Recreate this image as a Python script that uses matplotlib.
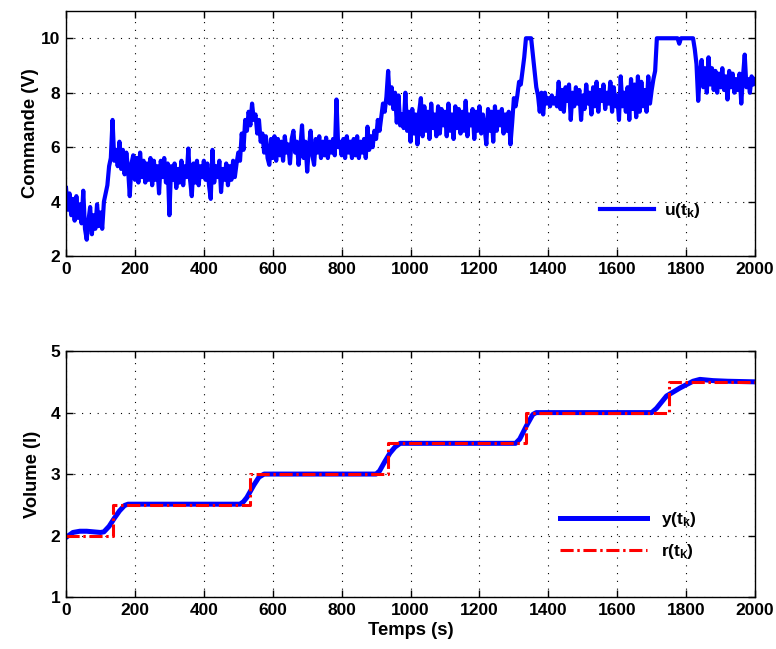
import matplotlib
matplotlib.use("Agg")
import matplotlib.pyplot as plt

# ---------------- data ----------------
# command u(t_k), sampled every 5 s (values read from the picture)
u_t = list(range(0, 2001, 5))
u_vals = [
    # 0-95
    4.5, 3.7, 4.3, 3.5, 4.1, 3.3, 4.2, 3.4, 3.9, 3.2, 4.4, 3.0, 2.6, 3.3, 3.8, 2.8, 3.5, 3.0, 3.9, 3.1,
    # 100-195
    3.6, 3.0, 4.0, 4.3, 4.6, 5.3, 5.6, 7.0, 5.5, 5.9, 5.3, 6.2, 5.2, 5.9, 5.0, 5.8, 5.2, 4.2, 5.4, 5.7,
    # 200-295
    4.8, 5.6, 4.7, 5.8, 4.9, 5.5, 4.7, 5.4, 4.8, 5.6, 4.6, 5.5, 4.8, 5.3, 4.3, 5.5, 4.9, 5.6, 4.7, 5.4,
    # 300-395
    3.5, 5.3, 4.8, 5.4, 4.5, 5.2, 4.7, 5.5, 4.6, 5.3, 4.9, 5.95, 4.8, 4.2, 5.4, 4.7, 5.5, 4.6, 5.3, 4.9,
    # 400-495
    5.5, 4.8, 5.4, 4.6, 4.1, 5.9, 4.7, 5.3, 4.9, 5.5, 4.35, 5.2, 4.8, 5.4, 4.6, 5.3, 4.8, 5.5, 4.9, 5.4,
    # 500-595
    5.8, 5.5, 6.5, 5.9, 7.0, 6.6, 7.3, 6.8, 7.6, 7.0, 7.2, 6.5, 7.0, 6.2, 6.5, 5.8, 6.4, 5.6, 5.35, 6.3,
    # 600-695
    5.6, 6.4, 5.5, 6.3, 5.7, 6.2, 5.5, 6.4, 5.8, 6.1, 5.4, 6.3, 6.6, 5.8, 6.2, 5.35, 6.0, 6.8, 5.6, 6.2,
    # 700-795
    5.1, 6.0, 6.6, 5.7, 5.35, 6.3, 5.8, 6.4, 5.6, 6.2, 5.7, 6.35, 5.6, 6.2, 5.8, 6.3, 5.7, 7.75, 6.0, 6.2,
    # 800-895
    5.7, 6.3, 5.6, 6.4, 5.8, 6.2, 5.6, 6.3, 5.7, 6.4, 5.6, 6.2, 5.8, 6.3, 5.6, 6.75, 5.9, 6.4, 6.0, 6.6,
    # 900-995
    6.3, 7.0, 6.6, 7.1, 7.6, 7.3, 7.85, 8.8, 7.6, 8.2, 7.4, 8.0, 6.9, 7.9, 6.8, 7.2, 6.7, 8.0, 6.6, 7.3,
    # 1000-1095
    6.2, 7.4, 6.5, 7.2, 6.1, 7.3, 7.8, 6.4, 7.5, 6.6, 7.3, 6.3, 7.6, 6.7, 7.2, 6.4, 7.5, 6.5, 7.4, 6.8,
    # 1100-1195
    7.3, 6.4, 7.6, 6.6, 7.2, 6.3, 7.5, 6.7, 7.4, 6.5, 7.3, 6.6, 7.7, 6.4, 7.2, 6.8, 7.4, 6.3, 7.3, 6.6,
    # 1200-1295
    7.5, 6.5, 7.2, 6.7, 6.1, 7.4, 6.6, 7.3, 6.2, 7.5, 6.6, 7.3, 6.8, 7.4, 6.5, 7.2, 6.6, 7.3, 6.1, 6.9,
    # 1300-1395
    7.8, 7.5, 7.9, 8.4, 8.3, 8.8, 9.3, 10.0, 10.0, 10.0, 10.0, 9.4, 8.8, 8.2, 7.9, 7.3, 8.0, 7.2, 8.0, 7.6,
    # 1400-1495
    7.8, 7.5, 7.9, 7.6, 7.8, 7.5, 8.4, 7.4, 8.1, 7.3, 8.2, 7.7, 8.3, 7.0, 8.0, 7.5, 8.2, 7.6, 8.1, 7.0,
    # 1500-1595
    7.9, 7.4, 8.3, 7.6, 8.0, 7.2, 8.2, 7.5, 8.4, 7.3, 8.1, 7.7, 8.3, 7.4, 8.0, 7.6, 8.4, 7.3, 8.2, 7.5,
    # 1600-1695
    7.9, 7.0, 8.6, 7.5, 8.0, 7.3, 8.2, 7.0, 8.5, 7.4, 8.3, 7.1, 8.6, 7.3, 8.4, 7.5, 8.1, 7.3, 8.6, 7.6,
    # 1700-1795
    8.1, 8.5, 8.8, 10.0, 10.0, 10.0, 10.0, 10.0, 10.0, 10.0, 10.0, 10.0, 10.0, 10.0, 10.0, 10.0, 9.8, 10.0, 10.0, 10.0,
    # 1800-1895
    10.0, 10.0, 10.0, 10.0, 10.0, 9.6, 9.05, 7.7, 8.7, 9.2, 8.2, 8.9, 8.0, 9.3, 8.3, 8.9, 8.1, 8.8, 8.0, 8.7,
    # 1900-1995
    8.2, 8.9, 8.1, 8.6, 7.75, 8.8, 8.2, 8.7, 8.0, 8.5, 8.1, 8.7, 7.6, 8.6, 9.4, 8.2, 8.5, 8.0, 8.6, 8.3,
    # 2000
    8.5,
]

# measured volume y(t_k)
y_t = [0, 20, 40, 60, 100, 110, 125, 140, 155, 170, 180, 505, 515, 525, 545,
       560, 575, 900, 910, 925, 940, 955, 970, 1305, 1317, 1336, 1355, 1365,
       1700, 1714, 1743, 1782, 1820, 1840, 1878, 1920, 2000]
y_vals = [1.97, 2.05, 2.07, 2.07, 2.05, 2.06, 2.15, 2.28, 2.40, 2.49, 2.51, 2.51, 2.55, 2.62, 2.82,
          2.95, 3.0, 3.0, 3.05, 3.2, 3.34, 3.44, 3.5, 3.5, 3.57, 3.78, 3.97, 4.0,
          4.0, 4.07, 4.27, 4.40, 4.51, 4.54, 4.52, 4.51, 4.5]

# reference r(t_k)
r_t = [0, 135, 535, 935, 1335, 1750, 2000]
r_vals = [2.0, 2.5, 3.0, 3.5, 4.0, 4.5, 4.5]

x_ticks = [0, 200, 400, 600, 800, 1000, 1200, 1400, 1600, 1800, 2000]
u_yticks = [2, 4, 6, 8, 10]
v_yticks = [1, 2, 3, 4, 5]

n = min(len(u_t), len(u_vals))
u_t, u_vals = u_t[:n], u_vals[:n]

# ---------------- style ----------------
plt.rcParams['font.family'] = ['Liberation Sans', 'DejaVu Sans']
plt.rcParams['font.weight'] = 'bold'
plt.rcParams['mathtext.fontset'] = 'custom'
plt.rcParams['mathtext.rm'] = 'Liberation Sans:bold'
plt.rcParams['mathtext.it'] = 'Liberation Sans:bold'
plt.rcParams['mathtext.bf'] = 'Liberation Sans:bold'
FS = 12.5
LFS = 13.2

fig = plt.figure(figsize=(7.76, 6.49), dpi=100)
ax1 = fig.add_axes([0.0851, 0.6055, 0.8879, 0.3775])
ax2 = fig.add_axes([0.0851, 0.0801, 0.8879, 0.3789])

blue = '#0000FF'
red = '#FF0000'

def style(ax, yticks, ylim):
    ax.set_xlim(0, 2000)
    ax.set_ylim(*ylim)
    ax.set_xticks(x_ticks)
    ax.set_yticks(yticks)
    ax.tick_params(direction='in', length=5, width=1, top=True, right=True,
                   labelsize=FS, pad=4)
    for lab in ax.get_xticklabels() + ax.get_yticklabels():
        lab.set_fontweight('bold')
    ax.grid(True, color='black', linestyle=(0, (1, 6)), linewidth=0.8)
    for s in ax.spines.values():
        s.set_linewidth(1.0)

ax1.plot(u_t, u_vals, color=blue, linewidth=3.0, label=r'u(t$_k$)')
style(ax1, u_yticks, (2, 11))
ax1.set_ylabel('Commande (V)', fontsize=LFS, fontweight='bold', labelpad=1.5)
ax1.legend(loc='center left', bbox_to_anchor=(0.762, 0.184), frameon=False,
           handlelength=3.1, handletextpad=0.6, borderpad=0,
           prop={'weight': 'bold', 'size': FS})

ax2.plot(y_t, y_vals, color=blue, linewidth=3.6, label=r'y(t$_k$)')
ax2.plot(r_t, r_vals, color=red, linewidth=2.2, drawstyle='steps-post',
         linestyle=(0, (4.3, 1.2, 0.8, 1.2)), label=r'r(t$_k$)')
style(ax2, v_yticks, (1, 5))
ax2.set_ylabel('Volume (l)', fontsize=LFS, fontweight='bold', labelpad=7)
ax2.set_xlabel('Temps (s)', fontsize=LFS, fontweight='bold', labelpad=3)
ax2.legend(loc='center left', bbox_to_anchor=(0.705, 0.25), frameon=False,
           handlelength=5.0, handletextpad=0.8, borderpad=0, labelspacing=0.75,
           prop={'weight': 'bold', 'size': FS})

fig.savefig('out.png', dpi=100)
